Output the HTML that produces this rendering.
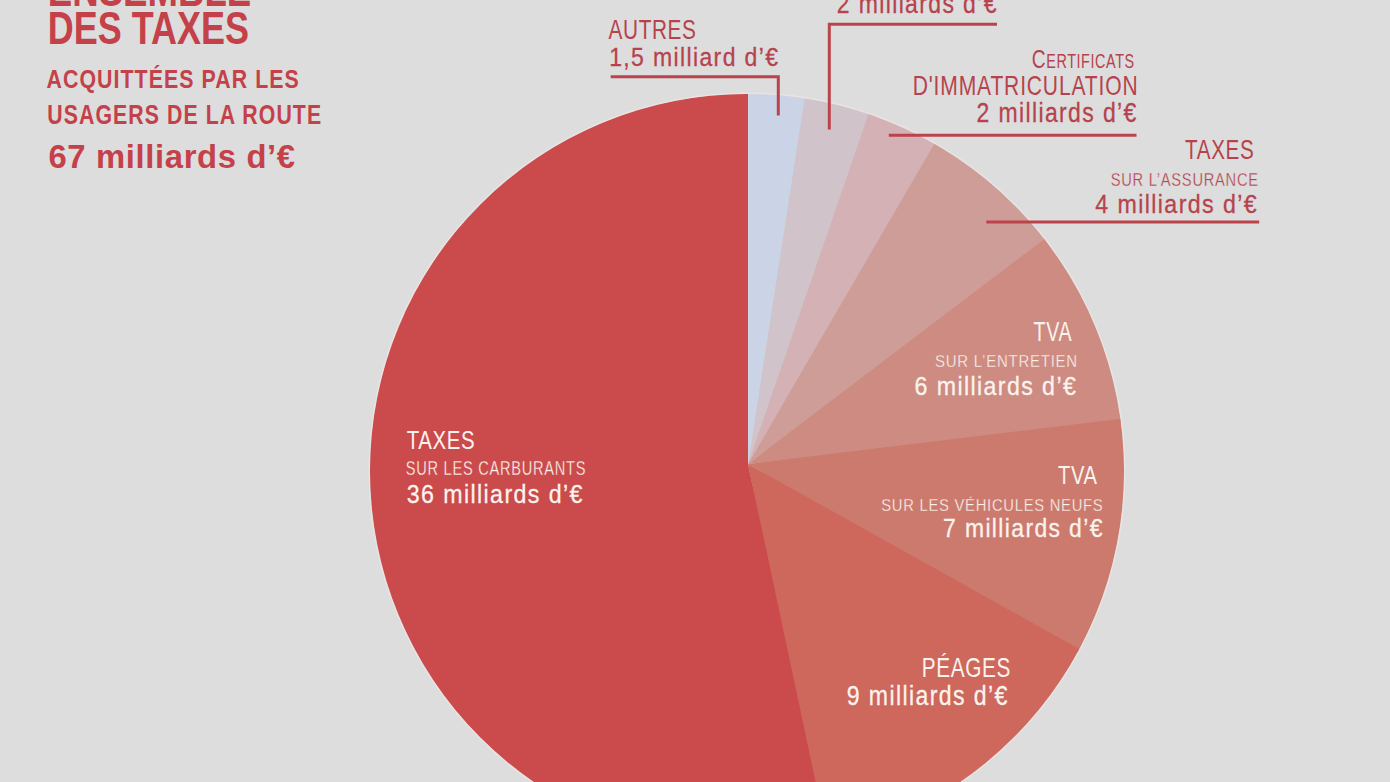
<!DOCTYPE html>
<html><head><meta charset="utf-8"><style>
html,body{margin:0;padding:0;background:#dddddd;}
svg{display:block;}
text{font-family:"Liberation Sans",sans-serif;}
</style></head><body>
<svg width="1390" height="782" viewBox="0 0 1390 782">
<defs><clipPath id="pie"><circle cx="747" cy="471" r="377"/></clipPath></defs>
<rect width="1390" height="782" fill="#dddddd"/>
<g clip-path="url(#pie)"><path d="M748.00,464.00 L732.29,-1035.92 L992.99,-1015.86 Z" fill="#cbd4e6"/><path d="M748.00,464.00 L977.48,-1018.34 L1251.18,-949.09 Z" fill="#d1c3ca"/><path d="M748.00,464.00 L1236.35,-954.28 L1516.06,-824.44 Z" fill="#d3b1b4"/><path d="M748.00,464.00 L1502.53,-832.41 L1952.23,-430.34 Z" fill="#cf9d98"/><path d="M748.00,464.00 L1942.79,-442.90 L2236.17,276.00 L2238.94,299.40 Z" fill="#cd8b81"/><path d="M748.00,464.00 L2237.14,283.79 L2127.73,1052.51 L2049.65,1209.46 Z" fill="#cc7a6d"/><path d="M748.00,464.00 L2057.38,1195.79 L1516.06,1752.44 L1044.49,1934.41 Z" fill="#ce675c"/><path d="M748.00,464.00 L1059.87,1931.22 L284.47,1890.58 L-366.72,1467.70 L-719.22,775.87 L-678.58,0.47 L-255.70,-650.72 L436.13,-1003.22 L748.00,-1036.00 Z" fill="#cb4a4b"/></g>
<circle cx="747" cy="471" r="377.9" fill="none" stroke="#f6e8e8" stroke-opacity="0.55" stroke-width="1.3"/>
<path d="M610.7,76.8 H778.3 V115.5" fill="none" stroke="#bb434b" stroke-width="3" stroke-linecap="butt"/><path d="M997,24.2 H829.3 V129.5" fill="none" stroke="#bb434b" stroke-width="3" stroke-linecap="butt"/><path d="M888.8,135.2 H1136.5" fill="none" stroke="#bb434b" stroke-width="3" stroke-linecap="butt"/><path d="M986.3,222 H1259.2" fill="none" stroke="#bb434b" stroke-width="3" stroke-linecap="butt"/>
<text transform="translate(47.78,6.3) scale(0.7939029,1)" font-weight="bold" font-size="46.143" fill="#c4414a">ENSEMBLE</text><text transform="translate(47.78,43.5) scale(0.7791,1)" font-weight="bold" font-size="46.143" letter-spacing="0.0px" fill="#c4414a">DES TAXES</text><text transform="translate(46.46,87.6) scale(0.8029,1)" font-weight="bold" font-size="26.571" letter-spacing="1.329px" fill="#c4414a">ACQUITTÉES PAR LES</text><text transform="translate(47.32,123.9) scale(0.7847,1)" font-weight="bold" font-size="27.143" letter-spacing="1.357px" fill="#c4414a">USAGERS DE LA ROUTE</text><text transform="translate(48.39,167.9) scale(0.9654,1)" font-weight="bold" font-size="33.973" letter-spacing="0.679px" fill="#c4414a">67 milliards d’€</text><text transform="translate(608.5,39.4) scale(0.7621,1)" font-weight="normal" font-size="27.286" letter-spacing="0.819px" fill="#b6434c">AUTRES</text><text transform="translate(609.16,66.3) scale(0.8788,1)" font-weight="normal" font-size="26.164" letter-spacing="1.57px" fill="#b6434c" stroke="#b6434c" stroke-width="0.3">1,5 milliard d’€</text><text transform="translate(1031.74,67.9) scale(0.7481,1)" font-weight="normal" font-size="25.714" letter-spacing="0.771px" fill="#b6434c">C<tspan style='font-size:75%'>ERTIFICATS</tspan></text><text transform="translate(912.71,94.9) scale(0.7447,1)" font-weight="normal" font-size="28.286" letter-spacing="1.131px" fill="#b6434c">D'IMMATRICULATION</text><text transform="translate(976.55,122.4) scale(0.8222,1)" font-weight="normal" font-size="27.945" letter-spacing="1.677px" fill="#b6434c" stroke="#b6434c" stroke-width="0.3">2 milliards d’€</text><text transform="translate(1185.09,158.8) scale(0.7698,1)" font-weight="normal" font-size="26.857" letter-spacing="0.806px" fill="#b6434c">TAXES</text><text transform="translate(1110.67,185.9) scale(0.7854,1)" font-weight="normal" font-size="18.714" letter-spacing="0.936px" fill="#b6434c" stroke="#dddddd" stroke-width="0.3">SUR L’ASSURANCE</text><text transform="translate(1095.34,213) scale(0.8733,1)" font-weight="normal" font-size="26.575" letter-spacing="1.594px" fill="#b6434c" stroke="#b6434c" stroke-width="0.3">4 milliards d’€</text><text transform="translate(1033.61,340.8) scale(0.7056,1)" font-weight="normal" font-size="27.826" letter-spacing="0.835px" fill="#fbf3ee">TVA</text><text transform="translate(935.05,367.4) scale(0.9048,1)" font-weight="normal" font-size="16.571" letter-spacing="0.829px" fill="#fbf3ee" stroke="#cd8b81" stroke-width="0.3">SUR L’ENTRETIEN</text><text transform="translate(914.54,394.7) scale(0.887,1)" font-weight="normal" font-size="26.164" letter-spacing="1.57px" fill="#fbf3ee" stroke="#fbf3ee" stroke-width="0.3">6 milliards d’€</text><text transform="translate(1058.1,483.5) scale(0.7684,1)" font-weight="normal" font-size="26.232" letter-spacing="0.787px" fill="#fbf3ee">TVA</text><text transform="translate(881.26,511.1) scale(0.8918,1)" font-weight="normal" font-size="16.571" letter-spacing="0.829px" fill="#fbf3ee" stroke="#cc7a6d" stroke-width="0.3">SUR LES VÉHICULES NEUFS</text><text transform="translate(943.05,537) scale(0.8811,1)" font-weight="normal" font-size="26.027" letter-spacing="1.562px" fill="#fbf3ee" stroke="#fbf3ee" stroke-width="0.3">7 milliards d’€</text><text transform="translate(921.84,677.1) scale(0.7622,1)" font-weight="normal" font-size="27.286" letter-spacing="0.819px" fill="#fbf3ee">PÉAGES</text><text transform="translate(846.85,704.7) scale(0.8381,1)" font-weight="normal" font-size="27.534" letter-spacing="1.652px" fill="#fbf3ee" stroke="#fbf3ee" stroke-width="0.3">9 milliards d’€</text><text transform="translate(406.79,448.8) scale(0.7647,1)" font-weight="normal" font-size="26.714" letter-spacing="0.801px" fill="#fbf3ee">TAXES</text><text transform="translate(405.77,475.4) scale(0.7472,1)" font-weight="normal" font-size="19.571" letter-spacing="0.979px" fill="#fbf3ee" stroke="#cb4a4b" stroke-width="0.3">SUR LES CARBURANTS</text><text transform="translate(406.77,502.7) scale(0.8733,1)" font-weight="normal" font-size="26.575" letter-spacing="1.594px" fill="#fbf3ee" stroke="#fbf3ee" stroke-width="0.3">36 milliards d’€</text><text transform="translate(836.75,12.5) scale(0.8222,1)" font-size="27.945" letter-spacing="1.677px" fill="#b6434c" stroke="#b6434c" stroke-width="0.3">2 milliards d’€</text>
</svg>
</body></html>
